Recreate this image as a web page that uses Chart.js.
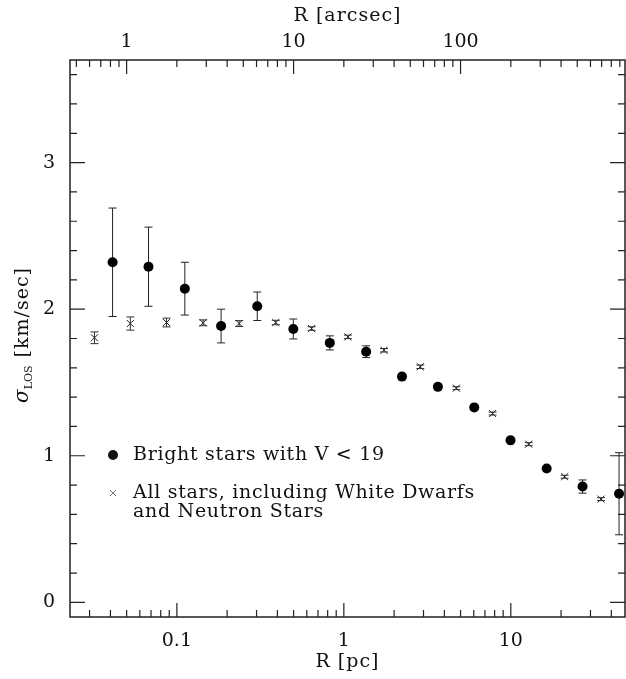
<!DOCTYPE html>
<html>
<head>
<meta charset="utf-8">
<script src="https://cdn.jsdelivr.net/npm/chart.js@4.4.1/dist/chart.umd.min.js"></script>
<style>
  html, body { margin: 0; padding: 0; background: #fff; overflow: hidden; }
  #wrap { width: 626px; height: 679px; }
  canvas { display: block; }
</style>
</head>
<body>
<div id="wrap"><canvas id="sigmaChart"></canvas></div>
<script>
// Bright stars with V < 19
const brightR = [0.0412, 0.0676, 0.1116, 0.184, 0.303, 0.498, 0.824, 1.36, 2.23, 3.66, 6.04, 9.96, 16.4, 26.9, 44.5];
const brightSig = [2.32, 2.29, 2.14, 1.885, 2.02, 1.865, 1.77, 1.71, 1.54, 1.47, 1.33, 1.105, 0.913, 0.79, 0.741];
const brightErr = [0.37, 0.27, 0.18, 0.115, 0.097, 0.068, 0.048, 0.04, 0.02, 0.015, 0.012, 0.012, 0.015, 0.045, 0.28];

// All stars, including white dwarfs and neutron stars
const allR = [0.0321, 0.0526, 0.0867, 0.1436, 0.236, 0.391, 0.641, 1.057, 1.74, 2.87, 4.72, 7.78, 12.8, 21.0, 34.7];
const allSig = [1.805, 1.902, 1.909, 1.907, 1.902, 1.909, 1.868, 1.811, 1.72, 1.607, 1.461, 1.288, 1.079, 0.857, 0.704];
const allErr = [0.04, 0.045, 0.03, 0.02, 0.02, 0.015, 0.012, 0.012, 0.012, 0.012, 0.01, 0.01, 0.01, 0.01, 0.01];

// axes
const xRange = [0.0229, 48.3];     // pc
const yRange = [-0.1, 3.7];        // km/s
const pcPerArcsec = 0.05;
const yStep = 0.2;

const FONT = "'DejaVu Serif', 'Liberation Serif', serif";
const INK = '#111';

function logTicks(min, max) {
  const out = [];
  for (let e = Math.floor(Math.log10(min)); e <= Math.ceil(Math.log10(max)); e++) {
    for (let m = 1; m < 10; m++) {
      const v = Number((m * Math.pow(10, e)).toPrecision(6));
      if (v >= min && v <= max) out.push({ value: v, major: m === 1 });
    }
  }
  return out;
}

function linTicks(min, max, step) {
  const out = [];
  for (let k = Math.ceil(min / step); k * step <= max + 1e-9; k++) {
    const v = Number((k * step).toFixed(6));
    out.push({ value: v, major: Math.abs(v - Math.round(v)) < 1e-6 });
  }
  return out;
}

const tickLabel = (v, i, ticks) => ticks[i].major ? String(Number(v.toPrecision(6))) : '';
const noSidePad = s => { s.paddingLeft = 0; s.paddingRight = 0; };

// error bars, frame, inward ticks, titles and legend
const decor = {
  id: 'decor',
  beforeDatasetsDraw(chart) {
    const ctx = chart.ctx;
    const x = chart.scales.x, y = chart.scales.y;
    const sets = [[brightR, brightSig, brightErr, '#222'], [allR, allSig, allErr, '#333']];
    ctx.save();
    ctx.lineWidth = 1;
    sets.forEach(([r, s, e, col]) => {
      ctx.strokeStyle = col;
      r.forEach((rv, i) => {
        const px = x.getPixelForValue(rv);
        const y1 = y.getPixelForValue(s[i] + e[i]);
        const y2 = y.getPixelForValue(s[i] - e[i]);
        ctx.beginPath();
        ctx.moveTo(px, y1); ctx.lineTo(px, y2);
        ctx.moveTo(px - 4, y1); ctx.lineTo(px + 4, y1);
        ctx.moveTo(px - 4, y2); ctx.lineTo(px + 4, y2);
        ctx.stroke();
      });
    });
    ctx.restore();
  },
  afterDraw(chart) {
    const ctx = chart.ctx;
    const a = chart.chartArea;
    const x = chart.scales.x, xt = chart.scales.xTop, y = chart.scales.y;
    ctx.save();
    ctx.strokeStyle = '#222';
    ctx.lineWidth = 1.5;
    ctx.strokeRect(a.left, a.top, a.right - a.left, a.bottom - a.top);

    ctx.lineWidth = 1.2;
    ctx.beginPath();
    x.ticks.forEach(t => {
      const px = x.getPixelForValue(t.value), len = t.major ? 14 : 7;
      ctx.moveTo(px, a.bottom); ctx.lineTo(px, a.bottom - len);
    });
    xt.ticks.forEach(t => {
      const px = xt.getPixelForValue(t.value), len = t.major ? 14 : 7;
      ctx.moveTo(px, a.top); ctx.lineTo(px, a.top + len);
    });
    y.ticks.forEach(t => {
      const py = y.getPixelForValue(t.value), len = t.major ? 15 : 7;
      ctx.moveTo(a.left, py); ctx.lineTo(a.left + len, py);
      ctx.moveTo(a.right, py); ctx.lineTo(a.right - len, py);
    });
    ctx.stroke();

    // axis titles
    ctx.fillStyle = INK;
    ctx.textAlign = 'center';
    ctx.textBaseline = 'middle';
    ctx.font = '19px ' + FONT;
    ctx.letterSpacing = '1px';
    const cx = (a.left + a.right) / 2;
    ctx.fillText('R [pc]', cx, 662);
    ctx.fillText('R [arcsec]', cx, 16);

    // y title with subscript
    ctx.save();
    ctx.translate(22, 335);
    ctx.rotate(-Math.PI / 2);
    ctx.textAlign = 'left';
    ctx.textBaseline = 'alphabetic';
    const fSig = 'italic 20px ' + FONT, fSub = '11px ' + FONT, fRest = '19px ' + FONT;
    ctx.letterSpacing = '0px';
    ctx.font = fSig; const wSig = ctx.measureText('σ').width;
    ctx.font = fSub; const wSub = ctx.measureText('LOS').width;
    ctx.letterSpacing = '1px';
    ctx.font = fRest; const wRest = ctx.measureText(' [km/sec]').width;
    let px = -(wSig + wSub + 1 + wRest) / 2;
    const base = 6;
    ctx.letterSpacing = '0px';
    ctx.font = fSig; ctx.fillText('σ', px, base); px += wSig;
    ctx.font = fSub; ctx.fillText('LOS', px, base + 4); px += wSub + 1;
    ctx.letterSpacing = '1px';
    ctx.font = fRest; ctx.fillText(' [km/sec]', px, base);
    ctx.restore();

    // legend
    ctx.textAlign = 'left';
    ctx.textBaseline = 'middle';
    ctx.font = '19px ' + FONT;
    ctx.letterSpacing = '0.7px';
    ctx.beginPath();
    ctx.arc(113, 455, 5, 0, Math.PI * 2);
    ctx.fill();
    ctx.fillText('Bright stars with V < 19', 133, 455);
    ctx.strokeStyle = '#777';
    ctx.lineWidth = 1;
    ctx.beginPath();
    ctx.moveTo(110, 490); ctx.lineTo(116, 496);
    ctx.moveTo(116, 490); ctx.lineTo(110, 496);
    ctx.stroke();
    ctx.fillText('All stars, including White Dwarfs', 133, 493);
    ctx.fillText('and Neutron Stars', 133, 512);
    ctx.restore();
  }
};

new Chart(document.getElementById('sigmaChart'), {
  type: 'scatter',
  data: {
    datasets: [
      {
        label: 'Bright stars with V < 19',
        data: brightR.map((r, i) => ({ x: r, y: brightSig[i] })),
        pointStyle: 'circle',
        pointRadius: 5,
        backgroundColor: '#000',
        borderColor: '#000',
        borderWidth: 0
      },
      {
        label: 'All stars, including White Dwarfs and Neutron Stars',
        data: allR.map((r, i) => ({ x: r, y: allSig[i] })),
        pointStyle: 'crossRot',
        pointRadius: 5,
        borderColor: '#222',
        borderWidth: 1
      }
    ]
  },
  options: {
    responsive: true,
    maintainAspectRatio: false,
    animation: false,
    layout: { autoPadding: false, padding: { left: 0, right: 1, top: 0, bottom: 0 } },
    plugins: { legend: { display: false }, tooltip: { enabled: false } },
    scales: {
      x: {
        type: 'logarithmic',
        position: 'bottom',
        min: xRange[0], max: xRange[1],
        grid: { display: false, drawTicks: false },
        border: { display: false },
        afterBuildTicks: s => { s.ticks = logTicks(xRange[0], xRange[1]); },
        afterFit: s => { s.height = 62; noSidePad(s); },
        ticks: { autoSkip: false, maxRotation: 0, padding: 13, color: INK,
                 font: { family: FONT, size: 19 }, callback: tickLabel }
      },
      xTop: {
        type: 'logarithmic',
        position: 'top',
        min: xRange[0] / pcPerArcsec, max: xRange[1] / pcPerArcsec,
        grid: { display: false, drawTicks: false },
        border: { display: false },
        afterBuildTicks: s => { s.ticks = logTicks(xRange[0] / pcPerArcsec, xRange[1] / pcPerArcsec); },
        afterFit: s => { s.height = 60; noSidePad(s); },
        ticks: { autoSkip: false, maxRotation: 0, padding: 7, color: INK,
                 font: { family: FONT, size: 19 }, callback: tickLabel }
      },
      y: {
        type: 'linear',
        min: yRange[0], max: yRange[1],
        grid: { display: false, drawTicks: false },
        border: { display: false },
        afterBuildTicks: s => { s.ticks = linTicks(yRange[0], yRange[1], yStep); },
        afterFit: s => { s.width = 70; },
        ticks: { autoSkip: false, padding: 15, color: INK,
                 font: { family: FONT, size: 19 }, callback: tickLabel }
      }
    }
  },
  plugins: [decor]
});
</script>
</body>
</html>
